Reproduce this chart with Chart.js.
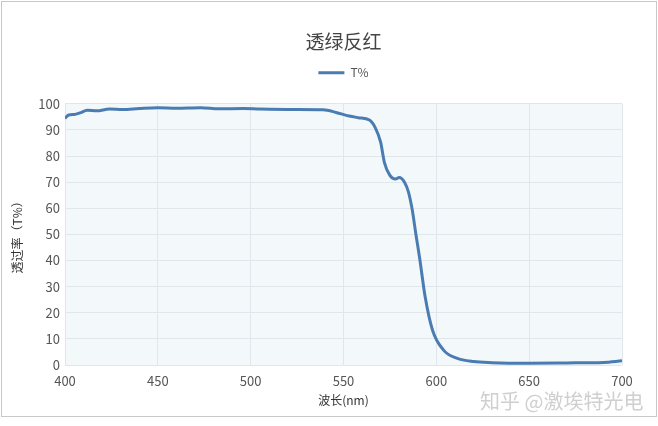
<!DOCTYPE html>
<html>
<head>
<meta charset="utf-8">
<script src="https://cdn.jsdelivr.net/npm/chart.js@4.4.1/dist/chart.umd.min.js"></script>
<style>
  html, body { margin: 0; padding: 0; background: #fff; width: 658px; height: 426px; overflow: hidden; }
  #frame { position: absolute; left: 1px; top: 1px; width: 654px; height: 414px; border: 1px solid #c8c8c8; }
  #wrap { position: absolute; left: 0; top: 0; width: 658px; height: 426px; }
  #wm { position: absolute; left: 480px; top: 386px; font-family: "Noto Sans CJK SC", sans-serif; font-size: 20px; color: #cfcfcf; white-space: nowrap; }
</style>
</head>
<body>
<div id="frame"></div>
<div id="wrap"><canvas id="c" width="658" height="426"></canvas></div>
<div id="wm">知乎 @激埃特光电</div>
<script>
const chartTitle = "透绿反红";
const seriesName = "T%";
const xTitle = "波长(nm)";
const yTitle = "透过率（T%）";
const wavelengths = [400, 402, 405, 408, 412, 417, 424, 431, 440, 450, 460, 473, 483, 496, 505, 523, 539, 546, 553, 558, 564, 567, 570, 572, 575, 578, 580, 583, 585, 587, 589, 591, 594, 598, 604, 611, 620, 630, 650, 670, 690, 700];
const transmittance = [94.4, 95.7, 95.9, 96.5, 97.5, 97.3, 98.0, 97.8, 98.2, 98.5, 98.3, 98.5, 98.1, 98.2, 98.0, 97.8, 97.7, 96.7, 95.3, 94.7, 93.8, 91.0, 85.3, 77.6, 72.6, 71.2, 71.8, 69.8, 66.2, 59.5, 50.0, 41.0, 26.0, 13.2, 5.6, 2.6, 1.3, 0.9, 0.7, 0.8, 1.0, 1.6];
const xTicks = [400, 450, 500, 550, 600, 650, 700];

const points = wavelengths.map((w, i) => ({ x: w, y: transmittance[i] }));

const bgPlugin = {
  id: 'areaBg',
  beforeDraw(chart) {
    const { ctx, chartArea: a } = chart;
    ctx.save();
    ctx.fillStyle = '#f3f8fb';
    ctx.fillRect(a.left, a.top, a.right - a.left, a.bottom - a.top);
    ctx.restore();
  }
};

const FONT = '"Noto Sans CJK SC", sans-serif';

new Chart(document.getElementById('c'), {
  type: 'line',
  data: {
    datasets: [{
      label: seriesName,
      data: points,
      xAxisID: 'x',
      borderColor: '#4a7cb2',
      backgroundColor: '#4a7cb2',
      borderWidth: 3,
      pointRadius: 0,
      cubicInterpolationMode: 'monotone',
      fill: false
    }]
  },
  options: {
    responsive: false,
    animation: false,
    layout: { padding: { left: 0, right: 36, top: 0, bottom: 0 } },
    plugins: {
      title: {
        display: true, text: chartTitle, fullSize: false,
        color: '#444', font: { family: FONT, size: 19, weight: 'normal' },
        padding: { top: 30, bottom: 4 }
      },
      legend: {
        display: true, fullSize: false,
        labels: {
          color: '#555', font: { family: FONT, size: 12 },
          boxWidth: 26, boxHeight: 3, padding: 10,
          generateLabels(chart) {
            return [{ text: seriesName, fillStyle: '#4a7cb2', strokeStyle: '#4a7cb2', lineWidth: 0, datasetIndex: 0, fontColor: '#555' }];
          }
        }
      },
      tooltip: { enabled: false }
    },
    scales: {
      x: {
        type: 'linear', min: 400, max: 700,
        afterBuildTicks(s) { s.ticks = xTicks.map(v => ({ value: v })); },
        afterFit(s) { s.height = 61; },
        grid: { color: '#e1e6ea', drawTicks: false },
        border: { display: false },
        ticks: { color: '#555', padding: 8, font: { family: FONT, size: 13 }, maxRotation: 0 },
        title: { display: true, text: xTitle, color: '#333', font: { family: FONT, size: 12 }, padding: { top: 0, bottom: 18 } }
      },
      xTop: {
        type: 'linear', position: 'top', min: 400, max: 700,
        grid: { display: false },
        border: { display: false },
        ticks: { display: false },
        afterFit(s) { s.height = 15; }
      },
      y: {
        min: 0, max: 100,
        ticks: { stepSize: 10, color: '#555', padding: 5, font: { family: FONT, size: 13 } },
        afterFit(s) { s.width = 65; },
        grid: { color: '#e1e6ea', drawTicks: false },
        border: { display: false },
        title: { display: true, text: yTitle, color: '#333', font: { family: FONT, size: 12 }, padding: { top: 10, bottom: 0 } }
      }
    }
  },
  plugins: [bgPlugin]
});
</script>
</body>
</html>
